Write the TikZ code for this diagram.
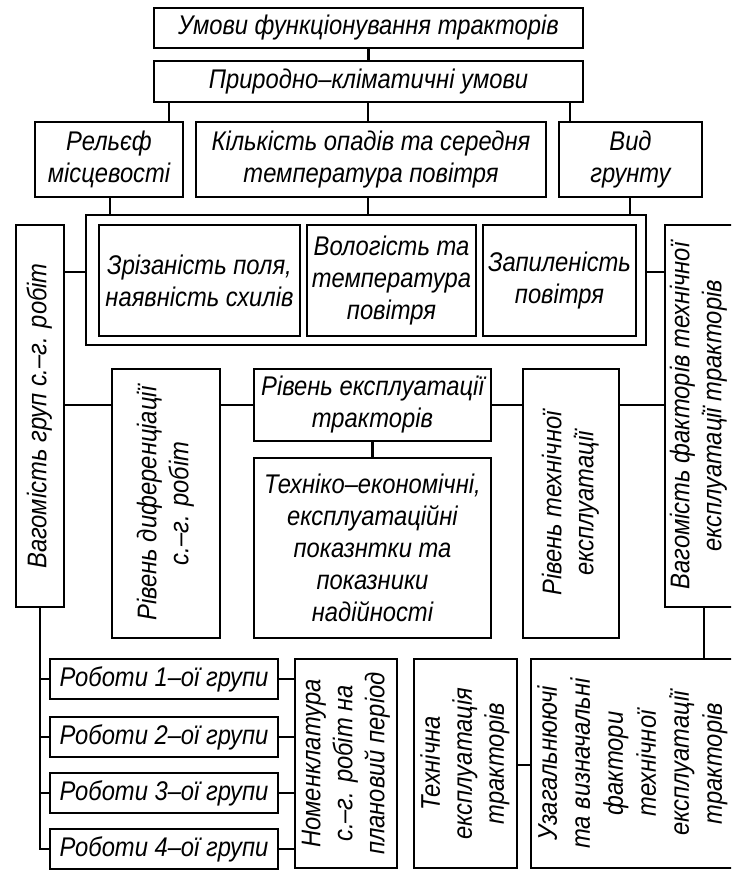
\documentclass[tikz,border=0pt]{standalone}
\usepackage{fontspec}
\usepackage{graphicx}
\setmainfont{Liberation Sans}[FakeStretch=0.88]
\newcommand{\vt}[1]{\rotatebox{90}{\begin{tabular}{@{}c@{}}#1\end{tabular}}}
\begin{document}
\begin{tikzpicture}[x=1pt,y=-1pt,
  box/.style={draw, line width=2.6pt, inner sep=0pt, align=center,
    font=\fontsize{27}{32}\selectfont\itshape},
  txt/.style={inner sep=0pt, align=center, font=\fontsize{27}{32}\selectfont\itshape},
  ln/.style={line width=2.6pt}]
\useasboundingbox (0,0) rectangle (731,870);
\clip (0,0) rectangle (731,870);
\fill[white] (0,0) rectangle (731,870);
% top rows
\node[box, minimum width=429, minimum height=40] (top) at (368.5,28) {Умови функціонування тракторів};
\node[box, minimum width=429, minimum height=41] (pk) at (368.5,81.5) {Природно–кліматичні умови};
\node[box, minimum width=148, minimum height=75] (rel) at (109,159.5) {Рельєф\\місцевості};
\node[box, minimum width=350, minimum height=75] (kil) at (371,159.5) {Кількість опадів та середня\\температура повітря};
\node[box, minimum width=143, minimum height=75] (vid) at (630.5,159.5) {Вид\\грунту};
% group box
\node[box, minimum width=560, minimum height=130] (outer) at (366,280) {};
\node[box, minimum width=201, minimum height=111] (zr) at (199.5,280.5) {Зрізаність поля,\\наявність схилів};
\node[box, minimum width=169, minimum height=111] (vol) at (391.5,280.5) {Вологість та\\температура\\повітря};
\node[box, minimum width=153, minimum height=111] (zap) at (559.5,280.5) {Запиленість\\повітря};
% tall side boxes
\node[box, minimum width=48, minimum height=382] (vgr) at (40,416) {\vt{Вагомість груп с.–г. робіт}};
\node[box, minimum width=78, minimum height=382] (vf) at (704,416) {};
\node[txt] (vft) at (699,416) {\vt{Вагомість факторів технічної\\[0pt]експлуатації тракторів}};
% middle row
\node[box, minimum width=108, minimum height=269] (dif) at (166,503.5) {\vt{Рівень диференціації\\с.–г. робіт}};
\node[box, minimum width=237, minimum height=72] (re) at (372.5,405) {Рівень експлуатації\\тракторів};
\node[box, minimum width=237, minimum height=180] (te) at (372.5,548) {Техніко–економічні,\\експлуатаційні\\показнтки та\\показники\\надійності};
\node[box, minimum width=96, minimum height=269] (rt) at (571,503.5) {\vt{Рівень технічної\\експлуатації}};
% bottom row
\node[box, minimum width=228, minimum height=40] (r1) at (164,679) {Роботи 1–ої групи};
\node[box, minimum width=228, minimum height=40] (r2) at (164,737) {Роботи 2–ої групи};
\node[box, minimum width=228, minimum height=40] (r3) at (164,793) {Роботи 3–ої групи};
\node[box, minimum width=228, minimum height=40] (r4) at (164,849) {Роботи 4–ої групи};
\node[box, minimum width=102, minimum height=209] (nom) at (346,763.5) {\vt{Номенклатура\\с.–г. робіт на\\плановий період}};
\node[box, minimum width=103, minimum height=209] (tex) at (465.5,763.5) {\vt{Технічна\\експлуатація\\тракторів}};
\node[box, minimum width=209, minimum height=209] (uz) at (635.5,763.5) {};
\node[txt] (uzt) at (633,763.5) {\vt{Узагальнюючі\\[1pt]та визначальні\\[1pt]фактори\\[1pt]технічної\\[1pt]експлуатації\\[1pt]тракторів}};
% helper coordinates
\coordinate (c1) at (169,0);
\coordinate (c2) at (368,0);
\coordinate (c3) at (570,0);
\coordinate (c4) at (110,0);
\coordinate (c5) at (630,0);
\coordinate (c6) at (0,272);
\coordinate (c7) at (0,405);
\coordinate (c8) at (0,765);
% connectors
\draw[ln] (top) -- (pk);
\draw[ln] (pk.south -| c1) -- (rel.north -| c1);
\draw[ln] (pk.south -| c2) -- (kil.north -| c2);
\draw[ln] (pk.south -| c3) -- (vid.north -| c3);
\draw[ln] (rel.south -| c4) -- (outer.north -| c4);
\draw[ln] (kil.south -| c2) -- (outer.north -| c2);
\draw[ln] (vid.south -| c5) -- (outer.north -| c5);
\draw[ln] (vgr.east |- c6) -- (outer.west |- c6);
\draw[ln] (outer.east |- c6) -- (vf.west |- c6);
\draw[ln] (vgr.east |- c7) -- (dif.west |- c7);
\draw[ln] (dif.east |- c7) -- (re.west);
\draw[ln] (re.east) -- (rt.west |- c7);
\draw[ln] (rt.east |- c7) -- (vf.west |- c7);
\draw[ln] (re) -- (te);
\draw[ln] (vgr.south) -- (vgr.south |- r4.west) -- (r4.west);
\draw[ln] (vgr.south |- r1.west) -- (r1.west);
\draw[ln] (vgr.south |- r2.west) -- (r2.west);
\draw[ln] (vgr.south |- r3.west) -- (r3.west);
\draw[ln] (r1.east) -- (nom.west |- r1.east);
\draw[ln] (r2.east) -- (nom.west |- r2.east);
\draw[ln] (r3.east) -- (nom.west |- r3.east);
\draw[ln] (r4.east) -- (nom.west |- r4.east);
\draw[ln] (vf.south) -- (vf.south |- uz.north);
\draw[ln] (tex.east |- c8) -- (uz.west |- c8);
\end{tikzpicture}
\end{document}
